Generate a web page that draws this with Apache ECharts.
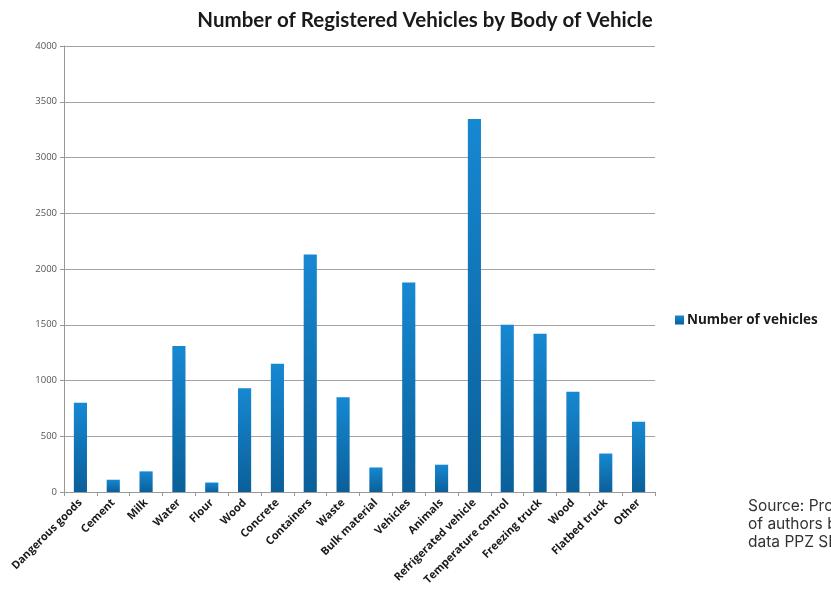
<!DOCTYPE html>
<html>
<head>
<meta charset="utf-8">
<script src="https://cdn.jsdelivr.net/npm/echarts@6/dist/echarts.min.js"></script>
<style>
html,body{margin:0;padding:0;background:#fff;}
#chart{width:831px;height:594px;}
</style>
</head>
<body>
<div id="chart"></div>
<script>
const categories = ["Dangerous goods","Cement","Milk","Water","Flour","Wood","Concrete","Containers","Waste","Bulk material","Vehicles","Animals","Refrigerated vehicle","Temperature control","Freezing truck","Wood","Flatbed truck","Other"];
const vehicles = [800,110,185,1310,85,930,1150,2130,850,220,1880,245,3345,1500,1420,900,345,630];
const yTicks = [0,500,1000,1500,2000,2500,3000,3500,4000];
const titleText = "Number of Registered Vehicles by Body of Vehicle";
const seriesName = "Number of vehicles";
const sourceLines = ["Source: Processing", "of authors based on", "data PPZ SR"];

const chart = echarts.init(document.getElementById('chart'), null, {renderer:'canvas'});
const barColor = new echarts.graphic.LinearGradient(0,0,0,1,[
  {offset:0,color:'#1688d2'},
  {offset:1,color:'#0b5f99'}
]);
chart.setOption({
  animation:false,
  backgroundColor:'#ffffff',
  title:{
    text:titleText,
    left:420, top:5, textAlign:'center',
    textStyle:{fontFamily:'Lato', fontWeight:'bold', fontSize:20.5, color:'#1a1a1a'}
  },
  legend:{
    data:[seriesName],
    left:675, top:313, padding:0,
    itemWidth:9, itemHeight:9, itemGap:5,
    icon:'rect',
    textStyle:{fontFamily:'Open Sans', fontWeight:'bold', fontSize:13.5, color:'#1a1a1a', padding:[0,0,0,-2]}
  },
  grid:{left:64, right:176, top:46, bottom:102, containLabel:false},
  xAxis:{
    type:'category',
    data:categories,
    axisLine:{lineStyle:{color:'#999', width:1}},
    axisTick:{show:true, alignWithLabel:false, length:4, lineStyle:{color:'#999'}},
    axisLabel:{rotate:45, interval:0, margin:9, fontFamily:'Open Sans', fontWeight:'bold', fontSize:11, color:'#1a1a1a'}
  },
  yAxis:{
    type:'value',
    min:0, max:4000, interval:500,
    axisLine:{show:true, lineStyle:{color:'#999', width:1}},
    axisTick:{show:true, length:4, lineStyle:{color:'#999'}},
    splitLine:{lineStyle:{color:'#a3a3a3', width:1.2}},
    axisLabel:{margin:7, fontFamily:'Open Sans', fontSize:9.5, color:'#555',
      formatter:function(v){ return yTicks.indexOf(v) >= 0 ? String(v) : ''; }}
  },
  series:[{
    name:seriesName,
    type:'bar',
    data:vehicles,
    barWidth:'40%',
    itemStyle:{color:barColor}
  }],
  graphic:[{
    type:'text',
    left:748, top:497,
    style:{
      text:sourceLines.join('\n'),
      fontFamily:'Inter', fontSize:15.5, lineHeight:18, fill:'#333'
    }
  }]
});
</script>
</body>
</html>
